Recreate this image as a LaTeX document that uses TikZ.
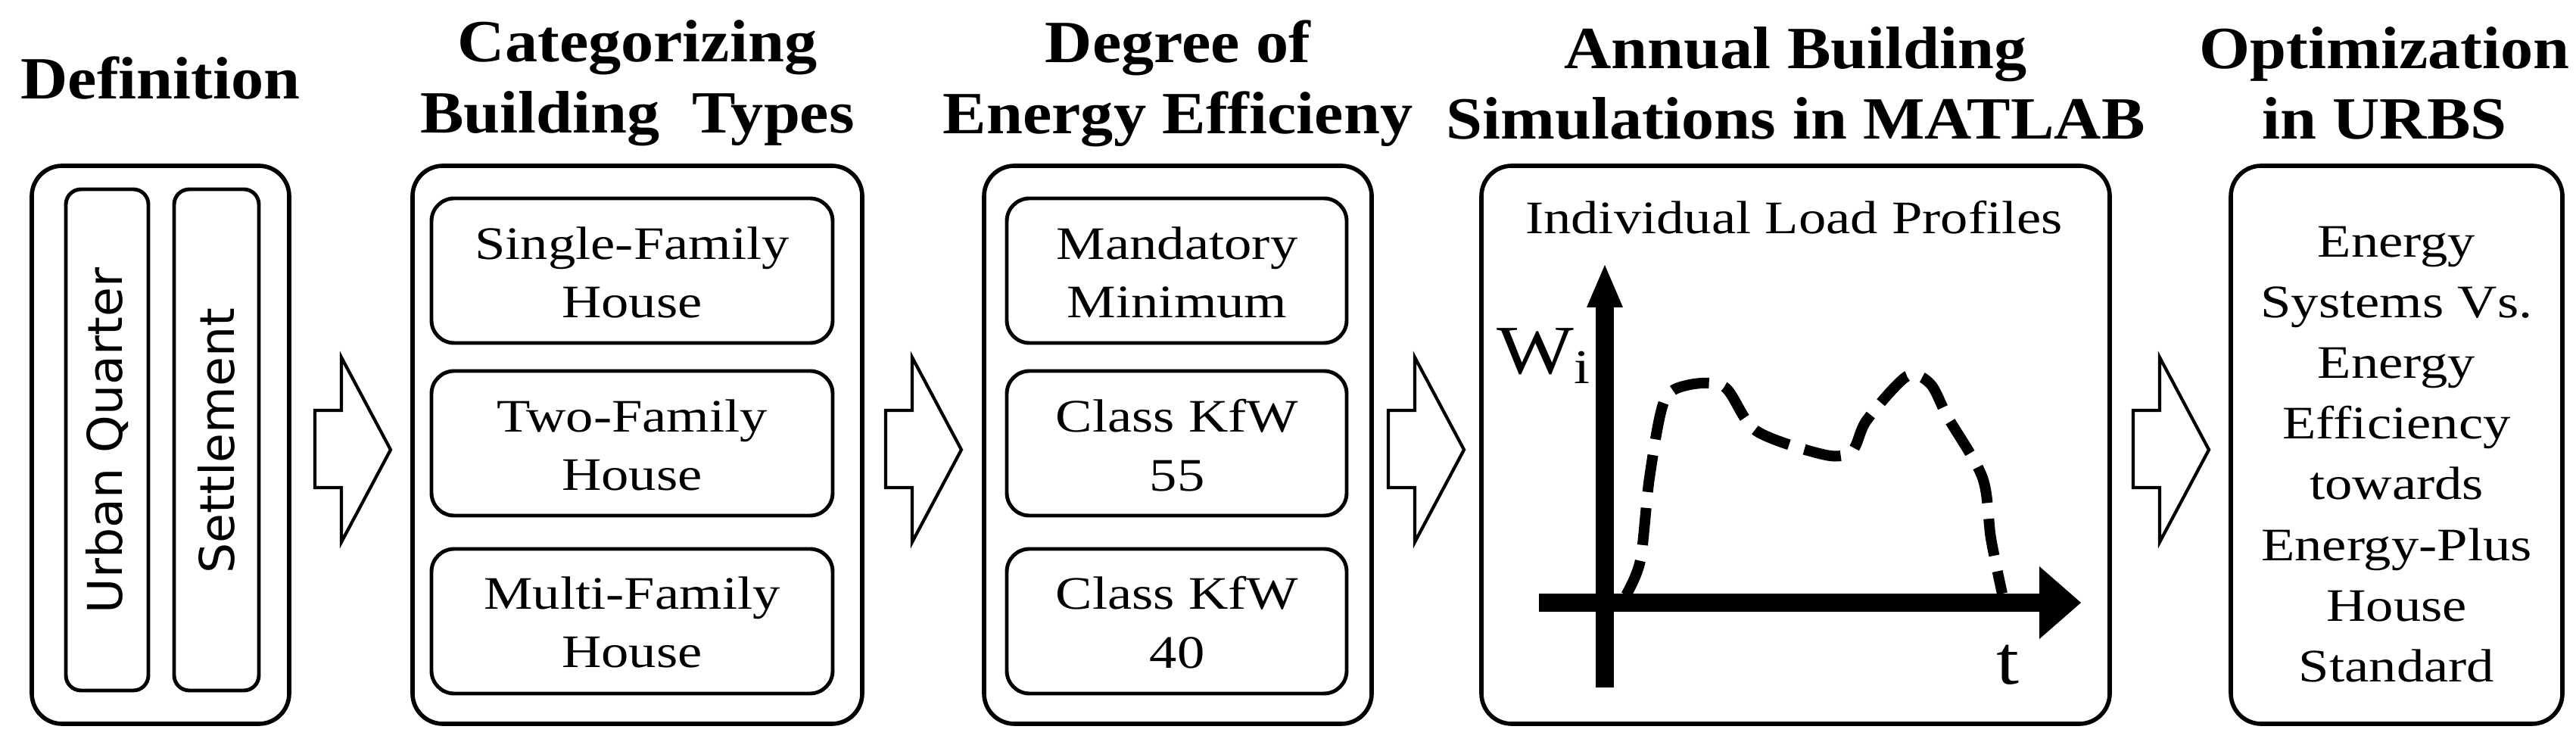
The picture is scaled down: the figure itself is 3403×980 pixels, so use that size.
\documentclass[tikz,border=0pt]{standalone}
\usepackage{fontspec}
\setmainfont{Liberation Serif}
\newfontfamily\wideserif[FakeStretch=1.18]{Liberation Serif}
\newfontfamily\widebold[FakeStretch=1.09]{Liberation Serif Bold}
\newfontfamily\sansq{DejaVu Sans}
\begin{document}
\begin{tikzpicture}[x=0.01cm,y=-0.01cm,
  outer/.style={draw,line width=1.6pt,rounded corners=4mm},
  inner/.style={draw,line width=1.4pt,rounded corners=3mm},
  narrow/.style={draw,line width=1.4pt,rounded corners=2mm},
  body/.style={align=center,font=\wideserif\fontsize{17.5}{22}\selectfont,inner sep=0pt},
  title/.style={align=center,font=\widebold\fontsize{22.5}{26.7}\selectfont,inner sep=0pt},
  blk/.pic={\draw[line width=1.2pt,fill=white] (0,542)--(35,542)--(35,472)--(100,594)--(35,716)--(35,644)--(0,644)--cycle;}]
\useasboundingbox (0,0) rectangle (3403,980);
\fill[white] (0,0) rectangle (3403,980);
% titles
\node[title] (t1) at (212,103) {Definition};
\node[title] (t2) at (842,110) {Categorizing\\Building\ \ Types};
\node[title] (t3) at (1556,110) {Degree of\\Energy Efficieny};
\node[title] (t4) at (2372,110) {Annual Building\\Simulations in MATLAB};
\node[title] (t5) at (3150,110) {Optimization\\in URBS};
% box 1
\draw[outer] (42,219) rectangle (382,956);
\draw[narrow] (87,250) rectangle (196,912);
\draw[narrow] (230,250) rectangle (342,912);
\node[rotate=90,font=\sansq\fontsize{18}{20}\selectfont,inner sep=0pt] (uq) at (142,582) {Urban Quarter};
\node[rotate=90,font=\sansq\fontsize{18}{20}\selectfont,inner sep=0pt] (se) at (286,582) {Settlement};
% box 2
\draw[outer] (545,219) rectangle (1139,956);
\draw[inner] (570,262) rectangle (1100,453);
\draw[inner] (570,490) rectangle (1100,681);
\draw[inner] (570,725) rectangle (1100,916);
\node[body] (b21) at (835,360) {Single-Family\\House};
\node[body] (b22) at (835,588) {Two-Family\\House};
\node[body] (b23) at (835,822) {Multi-Family\\House};
% box 3
\draw[outer] (1300,219) rectangle (1812,956);
\draw[inner] (1330,262) rectangle (1779,453);
\draw[inner] (1330,490) rectangle (1779,681);
\draw[inner] (1330,725) rectangle (1779,916);
\node[body] (b31) at (1555,360) {Mandatory\\Minimum};
\node[body] (b32) at (1555,588) {Class KfW\\55};
\node[body] (b33) at (1555,822) {Class KfW\\40};
% box 4
\draw[outer] (1957,219) rectangle (2787,956);
\node[body] (ilp) at (2370,287) {Individual Load Profiles};
\draw[line width=7pt] (2120,908)--(2120,400);
\fill (2096,406)--(2144,406)--(2120,350)--cycle;
\draw[line width=7pt] (2033,796)--(2700,796);
\fill (2694,748)--(2694,844)--(2749,796)--cycle;
\node[body,font=\wideserif\fontsize{26}{28}\selectfont] (wi) at (2040,470) {W\textsubscript{i}};
\node[body,font=\wideserif\fontsize{26}{28}\selectfont] (tt) at (2652,878) {t};
\draw[line width=4pt,dash pattern=on 14pt off 6pt] plot[smooth,tension=0.5] coordinates{(2148,786) (2167,740) (2179,631) (2198,531) (2228,509) (2278,511) (2320,569) (2412,601) (2447,595) (2466,555) (2519,497) (2550,507) (2573,551) (2619,631) (2630,711) (2645,784)};
% box 5
\draw[outer] (2947,219) rectangle (3385,956);
\node[body,font=\wideserif\fontsize{17.5}{22.8}\selectfont] (b5) at (3166,600) {Energy\\Systems Vs.\\Energy\\Efficiency\\towards\\Energy-Plus\\House\\Standard};
% arrows
\pic at (416,0) {blk};
\pic at (1170,0) {blk};
\pic at (1834,0) {blk};
\pic at (2818,0) {blk};
\end{tikzpicture}
\end{document}
